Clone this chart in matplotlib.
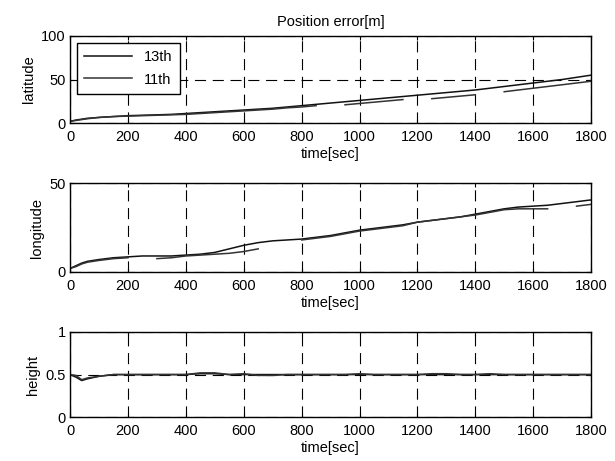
import numpy as np
import matplotlib.pyplot as plt

plt.rcParams['font.family'] = ['Liberation Sans', 'DejaVu Sans']
plt.rcParams['font.size'] = 10.5

nan = np.nan

# time samples [sec]
t = [0, 20, 40, 60, 100, 150, 200, 250, 300, 350, 400, 450, 500, 550, 600, 650, 700,
     750, 800, 850, 900, 950, 1000, 1050, 1100, 1150, 1200, 1250, 1300, 1350, 1400,
     1450, 1500, 1550, 1600, 1650, 1700, 1750, 1800]

lat_13 = [2, 3.5, 4.5, 5.5, 6.5, 7.5, 8.5, 9, 9.5, 10, 11, 12, 13, 14, 15, 16, 17,
          18.5, 20, 21.5, 23, 24.5, 26, 27.5, 29, 30.5, 32, 33.5, 35, 36.5, 38,
          40, 42, 44, 46, 48, 50, 52.5, 55]
lat_11 = [2, 3, 4, 5, 6.5, 7.5, 8, 8.5, 9, 9.5, 10, 11, 12, 13, 14, 15, 16,
          17.5, 18.5, 20, nan, 21, 22.5, 24, 25.5, 27, nan, 28, 29.5, 31, 32.5,
          nan, 36, 38, 40, 42, 44, 46, 48]

lon_13 = [2, 3.5, 5, 6, 7, 8, 8.5, 9, 9, 9, 9.5, 10, 11, 13, 15, 16.5, 17.5,
          18, 18.5, 19.5, 20.5, 22, 23.5, 24.5, 25.5, 26.5, 28, 29, 30, 31, 32.5,
          34, 35.5, 36.5, 37, 37.5, 38.5, 39.5, 40.5]
lon_11 = [2, 3, 4.5, 5.5, 6.5, 7.5, 8, nan, 7.5, 8, 9, 9.5, 10, 10.5, 11.5, 13, nan,
          nan, 18, 19, 20, 21.5, 23, 24, 25, 26, 28, 29, 30, 31, 32,
          33.5, 35, 35.5, 35.5, 35.5, nan, 37, 38]

hgt_13 = [0.5, 0.47, 0.43, 0.45, 0.48, 0.5, 0.5, 0.5, 0.5, 0.5, 0.5, 0.51, 0.51, 0.5, 0.5, 0.5, 0.5,
          0.5, 0.5, 0.5, 0.5, 0.5, 0.5, 0.5, 0.5, 0.5, 0.5, 0.5, 0.5, 0.5, 0.5,
          0.5, 0.5, 0.5, 0.5, 0.5, 0.5, 0.5, 0.5]
hgt_11 = [0.5, 0.49, 0.44, 0.46, 0.48, 0.5, 0.5, 0.5, 0.5, 0.5, 0.5, 0.52, 0.52, 0.5, 0.51, 0.49, 0.49,
          0.5, 0.5, 0.5, 0.5, 0.5, 0.51, 0.5, 0.5, 0.5, 0.5, 0.51, 0.51, 0.5, 0.5,
          0.51, 0.5, 0.5, 0.5, 0.5, 0.5, 0.5, 0.5]

panels = [
    ('latitude', lat_13, lat_11, [0, 50, 100]),
    ('longitude', lon_13, lon_11, [0, 50]),
    ('height', hgt_13, hgt_11, [0, 0.5, 1]),
]
xticks = list(range(0, 1801, 200))

fig = plt.figure(figsize=(6.15, 4.61), dpi=100)
rects = [(0.114, 0.733, 0.847, 0.189),
         (0.114, 0.410, 0.847, 0.193),
         (0.114, 0.095, 0.847, 0.185)]

for i, (name, y13, y11, yt) in enumerate(panels):
    ax = fig.add_axes(rects[i])
    ax.plot(t, y13, color='#111111', lw=1.1, label='13th')
    ax.plot(t, y11, color='#333333', lw=1.1, label='11th')
    ax.set_xlim(0, 1800)
    ax.set_ylim(yt[0], yt[-1])
    ax.set_xticks(xticks)
    ax.set_yticks(yt)
    ax.set_yticklabels([('%g' % v) for v in yt])
    ax.tick_params(direction='in', length=3, width=0.8, top=True, right=True)
    ax.tick_params(axis='x', pad=5)
    ax.tick_params(axis='y', pad=3)
    ax.grid(True, color='black', linestyle=(0, (10, 6)), linewidth=0.8)
    for s in ax.spines.values():
        s.set_linewidth(1.0)
    ax.set_xlabel('time[sec]', labelpad=2)
    ax.set_ylabel(name, labelpad=4)
    if i == 0:
        ax.set_title('Position error[m]', fontsize=10.5, pad=7)
        leg = ax.legend(loc='upper left', fancybox=False, edgecolor='black',
                        handlelength=3.3, borderaxespad=0.45, framealpha=1,
                        borderpad=0.5, labelspacing=0.6)
        leg.get_frame().set_linewidth(1.0)

fig.savefig('out.png', dpi=100)
